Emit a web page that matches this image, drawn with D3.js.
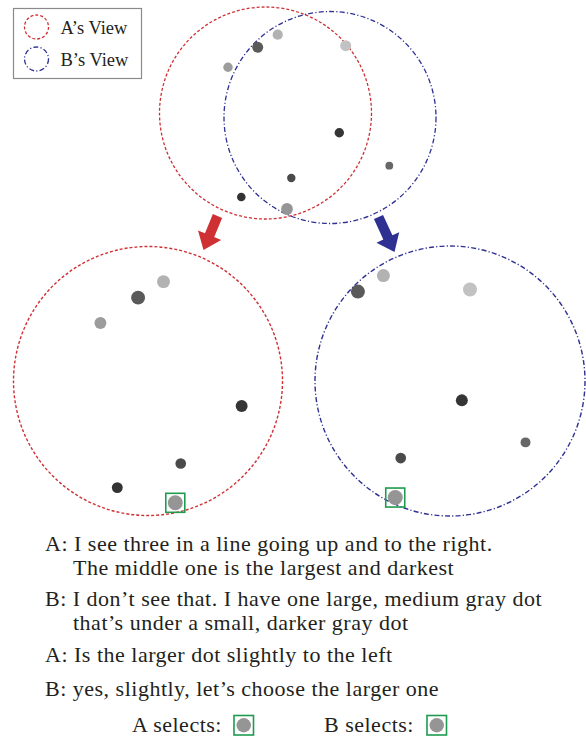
<!DOCTYPE html>
<html>
<head>
<meta charset="utf-8">
<script src="https://cdn.jsdelivr.net/npm/d3@7"></script>
<style>
  body { margin: 0; background: #fff; }
  text { font-family: "Liberation Serif", "Times New Roman", serif; fill: #231f20; }
</style>
</head>
<body>
<div class="chart"></div>
<script>
// shared scene: dot positions in scene units, seen by A (red) and B (blue)
var dotX = [117.7, 97.7, 185.7, 68.0, 179.3, 229.3, 131.3, 81.3, 127.0];
var dotY = [27.7, 40.3, 38.7, 60.3, 125.7, 158.7, 171.0, 190.0, 202.0];
var dotR = [5.1, 5.5, 5.5, 4.7, 4.7, 3.9, 4.2, 4.3, 5.9];
var dotGray = ["#b2b2b2", "#5a5a5a", "#c2c2c2", "#9c9c9c", "#353535", "#676767", "#4a4a4a", "#333333", "#959595"];
var inA = [1, 1, 0, 1, 1, 0, 1, 1, 1];
var inB = [1, 1, 1, 0, 1, 1, 1, 0, 1];
var selected = 8;

// the two views (center + radius in scene units)
var viewNames = ["A’s View", "B’s View"];
var viewCenters = [[105.5, 106.0], [170.0, 110.5]];
var viewRadius = 106;

var dialog = [
  ["A: I see three in a line going up and to the right.", "The middle one is the largest and darkest"],
  ["B: I don’t see that. I have one large, medium gray dot", "that’s under a small, darker gray dot"],
  ["A: Is the larger dot slightly to the left"],
  ["B: yes, slightly, let’s choose the larger one"]
];
var selectLabels = ["A selects:", "B selects:"];

var svgWidth = 586;
var svgHeight = 740;

var red = "#cf3034";
var blue = "#2e3192";
var green = "#1f9a4f";
var dashes = ["3,2", "5,2.2,1.2,2.2"];

var dots = dotX.map(function(x, i) {
  return { x: x, y: dotY[i], r: dotR[i], fill: dotGray[i], a: inA[i], b: inB[i], i: i };
});

var svg = d3.select(".chart")
  .append("svg")
  .attr("width", svgWidth)
  .attr("height", svgHeight);

// top panel: both views overlaid on the scene
var topX = d3.scaleLinear().domain([0, 280]).range([160, 440]);
var topY = d3.scaleLinear().domain([0, 280]).range([7, 287]);

var topG = svg.append("g");
topG.selectAll("circle.view")
  .data(viewCenters)
  .enter()
  .append("circle")
  .attr("cx", d => topX(d[0]))
  .attr("cy", d => topY(d[1]))
  .attr("r", topX(viewRadius) - topX(0))
  .attr("fill", "none")
  .attr("stroke", (d, i) => i == 0 ? red : blue)
  .attr("stroke-width", 1.3)
  .attr("stroke-dasharray", (d, i) => dashes[i]);

topG.selectAll("circle.dot")
  .data(dots)
  .enter()
  .append("circle")
  .attr("cx", d => topX(d.x))
  .attr("cy", d => topY(d.y))
  .attr("r", d => topX(d.r) - topX(0))
  .attr("fill", d => d.fill);

// zoomed views below
var panelCenters = [[148, 381], [450, 381]];
var panelRadius = [134.5, 135];

panelCenters.forEach(function(pc, v) {
  var c = viewCenters[v];
  var sx = d3.scaleLinear().domain([c[0] - viewRadius, c[0] + viewRadius]).range([pc[0] - panelRadius[v], pc[0] + panelRadius[v]]);
  var sy = d3.scaleLinear().domain([c[1] - viewRadius, c[1] + viewRadius]).range([pc[1] - panelRadius[v], pc[1] + panelRadius[v]]);
  var k = panelRadius[v] / viewRadius;
  var g = svg.append("g");

  g.append("circle")
    .attr("cx", sx(c[0]))
    .attr("cy", sy(c[1]))
    .attr("r", panelRadius[v])
    .attr("fill", "none")
    .attr("stroke", v == 0 ? red : blue)
    .attr("stroke-width", 1.4)
    .attr("stroke-dasharray", dashes[v]);

  var visible = dots.filter(d => v == 0 ? d.a : d.b);
  g.selectAll("circle.dot")
    .data(visible)
    .enter()
    .append("circle")
    .attr("cx", d => sx(d.x))
    .attr("cy", d => sy(d.y))
    .attr("r", d => d.r * k)
    .attr("fill", d => d.fill);

  // green box round the chosen dot
  var s = dots[selected];
  g.append("rect")
    .attr("x", sx(s.x) - 9.5)
    .attr("y", sy(s.y) - 9.5)
    .attr("width", 19)
    .attr("height", 19)
    .attr("fill", "none")
    .attr("stroke", green)
    .attr("stroke-width", 1.6);
});

// arrows from top panel to the two views
var arrows = [
  { from: [217.5, 216], to: [203.5, 250], color: red },
  { from: [378.5, 217], to: [394.5, 252], color: blue }
];
arrows.forEach(function(a) {
  var dx = a.to[0] - a.from[0], dy = a.to[1] - a.from[1];
  var len = Math.sqrt(dx * dx + dy * dy);
  var ux = dx / len, uy = dy / len, nx = -uy, ny = ux;
  var shaft = 5, head = 12.5, headLen = 16;
  var bx = a.to[0] - ux * headLen, by = a.to[1] - uy * headLen;
  var pts = [
    [a.from[0] + nx * shaft, a.from[1] + ny * shaft],
    [bx + nx * shaft, by + ny * shaft],
    [bx + nx * head, by + ny * head],
    a.to,
    [bx - nx * head, by - ny * head],
    [bx - nx * shaft, by - ny * shaft],
    [a.from[0] - nx * shaft, a.from[1] - ny * shaft]
  ];
  svg.append("path")
    .attr("d", d3.line()(pts) + "Z")
    .attr("fill", a.color);
});

// legend
var legend = svg.append("g");
legend.append("rect")
  .attr("x", 13.5)
  .attr("y", 8.5)
  .attr("width", 128)
  .attr("height", 70)
  .attr("fill", "#fff")
  .attr("stroke", "#8a8a8a")
  .attr("stroke-width", 1.2);
viewNames.forEach(function(name, i) {
  legend.append("circle")
    .attr("cx", 36.5)
    .attr("cy", 27 + i * 32)
    .attr("r", 12)
    .attr("fill", "none")
    .attr("stroke", i == 0 ? red : blue)
    .attr("stroke-width", 1.3)
    .attr("stroke-dasharray", dashes[i]);
  legend.append("text")
    .attr("x", 60.5)
    .attr("y", 33.5 + i * 32)
    .attr("font-size", 18.5)
    .text(name);
});

// dialogue, one text per line
var baselines = [[550.5, 575], [605.5, 630], [662], [696]];
var textG = svg.append("g");
dialog.forEach(function(lines, i) {
  lines.forEach(function(line, j) {
    textG.append("text")
      .attr("x", j == 0 ? 45 : 73)
      .attr("y", baselines[i][j])
      .attr("font-size", 22)
      .attr("letter-spacing", 0.5)
      .text(line);
  });
});

// selections
var selX = [132, 324];
var boxX = [234, 427];
selectLabels.forEach(function(lab, i) {
  textG.append("text")
    .attr("x", selX[i])
    .attr("y", 732)
    .attr("font-size", 22)
    .attr("letter-spacing", 0.5)
    .text(lab);
  textG.append("rect")
    .attr("x", boxX[i])
    .attr("y", 715.5)
    .attr("width", 19.5)
    .attr("height", 19.5)
    .attr("fill", "none")
    .attr("stroke", green)
    .attr("stroke-width", 1.6);
  textG.append("circle")
    .attr("cx", boxX[i] + 9.75)
    .attr("cy", 725.25)
    .attr("r", 7.2)
    .attr("fill", dots[selected].fill);
});
</script>
</body>
</html>
